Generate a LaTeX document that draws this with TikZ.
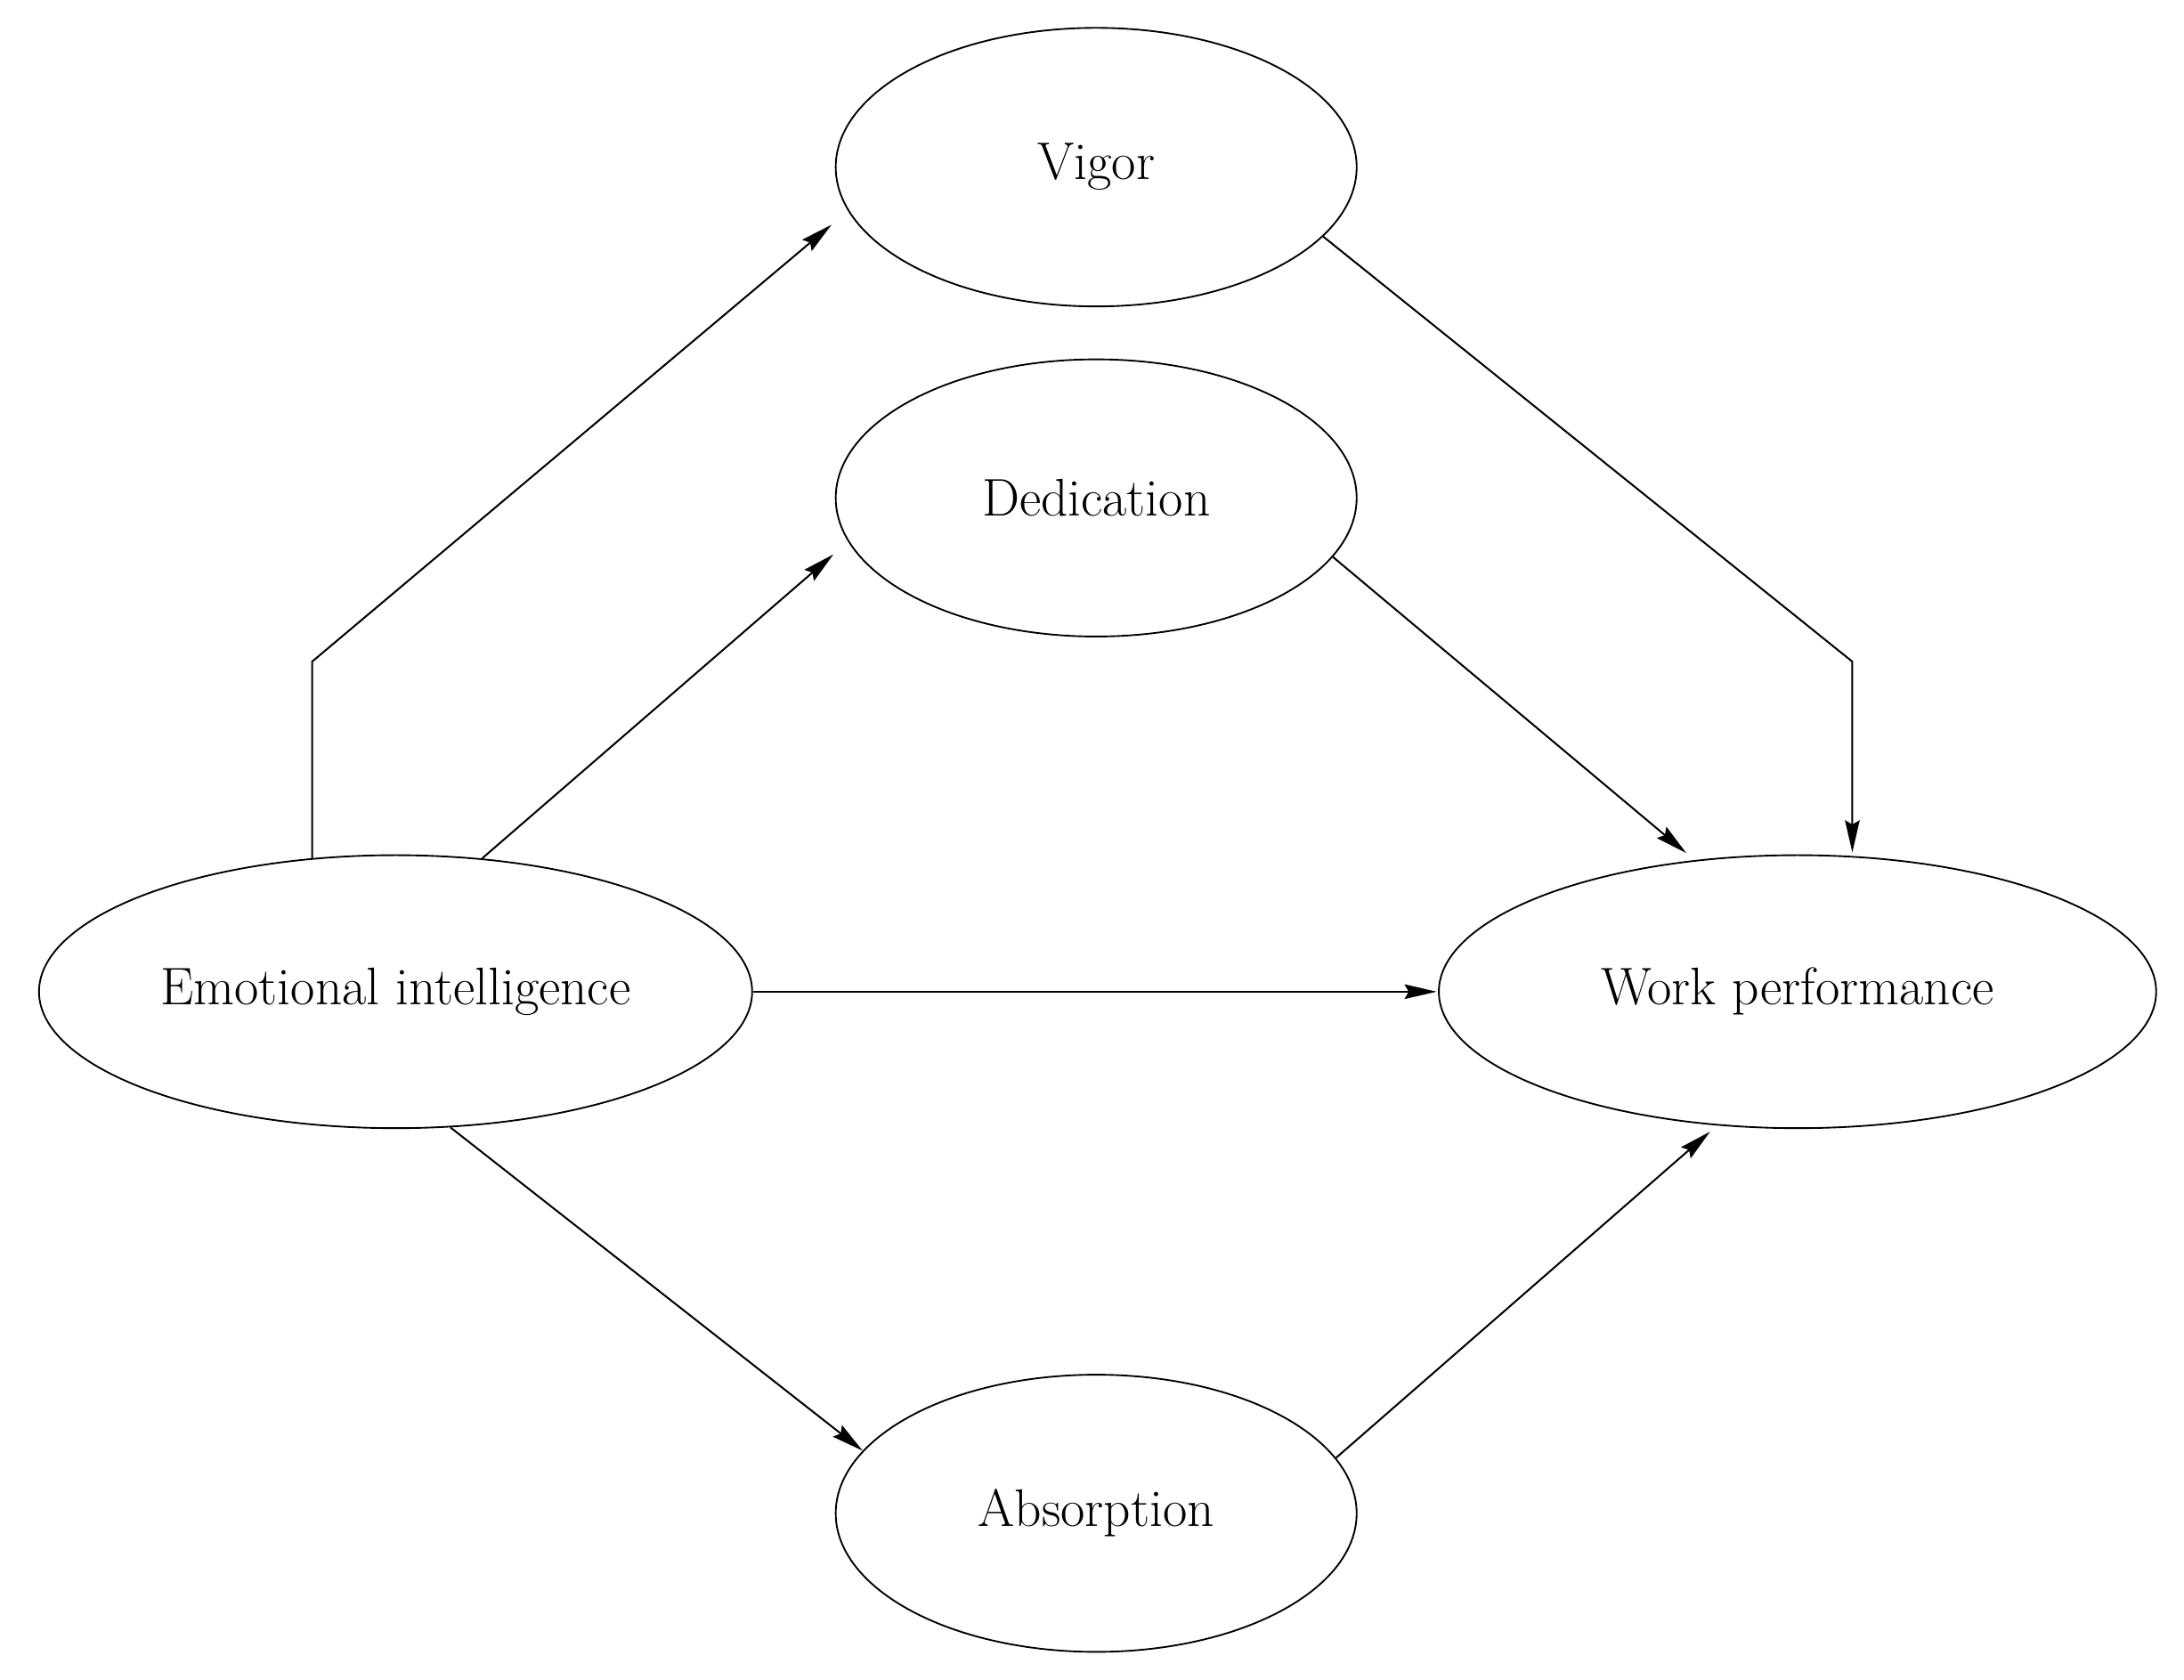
\documentclass[tikz,border=0pt]{standalone}
\usetikzlibrary{shapes.geometric,arrows.meta}
\begin{document}
\begin{tikzpicture}[x=1pt,y=-1pt,
  oval/.style={draw, ellipse, line width=1.2pt, inner sep=0pt, font=\fontsize{38}{46}\selectfont},
  link/.style={line width=1.3pt, line join=miter, -{Stealth[length=23pt,width=10.5pt,inset=3pt]}}]
\useasboundingbox (0,0) rectangle (1568,1206);
\node[oval, minimum width=374pt, minimum height=200pt] (vig) at (787,120) {Vigor};
\node[oval, minimum width=374pt, minimum height=199pt] (ded) at (787,357.5) {Dedication};
\node[oval, minimum width=374pt, minimum height=199pt] (abs) at (787,1086.5) {Absorption};
\node[oval, minimum width=512pt, minimum height=196pt] (ei) at (284,712) {Emotional intelligence};
\node[oval, minimum width=515pt, minimum height=196pt] (wp) at (1290.5,712) {Work performance};
\coordinate (bend) at (0,475);
\draw[link, shorten >=15.4pt] (ei.122) -- (ei.122 |- bend) -- (vig.190.3);
\draw[link, shorten >=13.9pt] (ei.57.8) -- (ded.190.4);
\draw[link, shorten >=1pt] (ei.east) -- (wp.west);
\draw[link] (ei.292.9) -- (abs.165.9);
\draw[link, shorten >=2.6pt] (vig.343.7) -- (wp.68 |- bend) -- (wp.68);
\draw[link, shorten >=7.9pt] (ded.346.3) -- (wp.128.1);
\draw[link, shorten >=6.7pt] (abs.13.7) -- (wp.239.5);
\end{tikzpicture}
\end{document}
